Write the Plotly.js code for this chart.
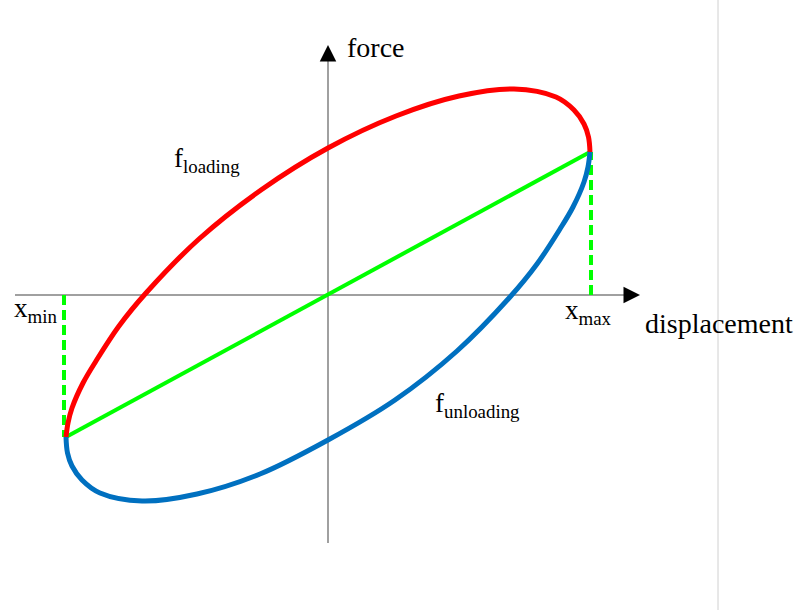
<!DOCTYPE html>
<html>
<head>
<meta charset="utf-8">
<script src="https://cdn.plot.ly/plotly-3.0.1.min.js"></script>
<style>html,body{margin:0;padding:0;background:#fff;}#chart{width:798px;height:610px;}</style>
</head>
<body>
<div id="chart"></div>
<script>
// Loading branch (red), from x_min to x_max
const loadingX = [-262, -260, -256, -245, -232, -209, -182, -129, -67, 0, 68, 131, 186, 228, 246, 256, 260.5, 262];
const loadingF = [-142, -128, -113, -88, -66, -31, 2, 56, 105, 147, 179, 199, 206, 198, 185, 171, 158, 143];
// Unloading branch (blue), from x_max back to x_min
const unloadingX = [262, 260, 256, 245, 232, 209, 182, 129, 67, 0, -68, -131, -186, -228, -246, -256, -260.5, -262];
const unloadingF = [143, 128, 113, 88, 66, 31, -2, -56, -105, -145, -179, -199, -206, -198, -185, -171, -158, -142];
// Secant line and extreme displacement markers
const secantX = [-262, 262];
const secantF = [-142, 143];
const xMinX = [-264, -264];
const xMinF = [0, -142];
const xMaxX = [263, 263];
const xMaxF = [0, 143];
// Axis extents
const axisX = [-313, 300];
const axisF = [-248, 238];

const serif = "'Liberation Serif', 'Times New Roman', Times, serif";

const traces = [
  {x: secantX, y: secantF, mode: 'lines', line: {color: '#00ff00', width: 4}},
  {x: xMinX, y: xMinF, mode: 'lines', line: {color: '#00ff00', width: 4, dash: '10px,5px'}},
  {x: xMaxX, y: xMaxF, mode: 'lines', line: {color: '#00ff00', width: 4, dash: '10px,5px'}},
  {x: loadingX, y: loadingF, mode: 'lines', line: {color: '#ff0000', width: 5, shape: 'spline', smoothing: 1}},
  {x: unloadingX, y: unloadingF, mode: 'lines', line: {color: '#0070c0', width: 5, shape: 'spline', smoothing: 1}}
];

const layout = {
  width: 798, height: 610,
  margin: {l: 0, r: 0, t: 0, b: 0},
  paper_bgcolor: '#ffffff', plot_bgcolor: '#ffffff',
  showlegend: false,
  font: {family: serif},
  xaxis: {range: [-328, 470], visible: false, fixedrange: true},
  yaxis: {range: [-315, 295], visible: false, fixedrange: true},
  shapes: [
    {type: 'line', xref: 'x', yref: 'y', x0: axisX[0], x1: axisX[1], y0: 0, y1: 0, line: {color: '#808080', width: 1.5}, layer: 'below'},
    {type: 'line', xref: 'x', yref: 'y', x0: 0, x1: 0, y0: axisF[0], y1: axisF[1], line: {color: '#808080', width: 1.5}, layer: 'below'},
    {type: 'line', xref: 'x', yref: 'paper', x0: 390, x1: 390, y0: 0, y1: 1, line: {color: '#d0d0d0', width: 1}, layer: 'below'}
  ],
  annotations: [
    {x: 312, y: 0, ax: 296, ay: 0, axref: 'x', ayref: 'y', xref: 'x', yref: 'y', showarrow: true, arrowhead: 2, arrowsize: 2.2, arrowwidth: 1.5, arrowcolor: '#000000', text: ''},
    {x: 0, y: 250, ax: 0, ay: 234, axref: 'x', ayref: 'y', xref: 'x', yref: 'y', showarrow: true, arrowhead: 2, arrowsize: 2.2, arrowwidth: 1.5, arrowcolor: '#000000', text: ''},
    {x: 48, y: 248, xref: 'x', yref: 'y', showarrow: false, text: 'force', font: {family: serif, size: 28, color: '#000'}},
    {x: 391, y: -28, xref: 'x', yref: 'y', showarrow: false, text: 'displacement', font: {family: serif, size: 28, color: '#000'}},
    {x: 260, y: -17, xref: 'x', yref: 'y', showarrow: false, text: 'x<sub>max</sub>', font: {family: serif, size: 27, color: '#000'}},
    {x: -293, y: -15, xref: 'x', yref: 'y', showarrow: false, text: 'x<sub>min</sub>', font: {family: serif, size: 27, color: '#000'}},
    {x: -121, y: 135, xref: 'x', yref: 'y', showarrow: false, text: 'f<sub>loading</sub>', font: {family: serif, size: 27, color: '#000'}},
    {x: 149, y: -110, xref: 'x', yref: 'y', showarrow: false, text: 'f<sub>unloading</sub>', font: {family: serif, size: 27, color: '#000'}}
  ]
};

Plotly.newPlot('chart', traces, layout, {displayModeBar: false, staticPlot: true});
</script>
</body>
</html>
